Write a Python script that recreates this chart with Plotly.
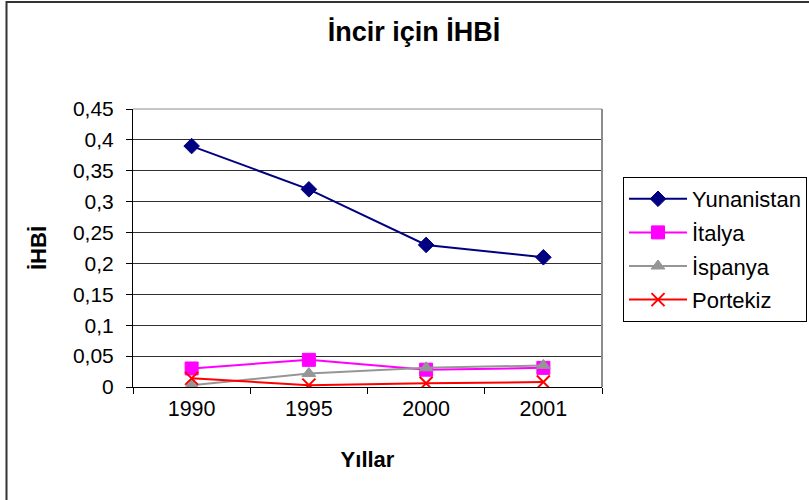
import plotly.graph_objects as go

years = ["1990", "1995", "2000", "2001"]
yunanistan = [0.39, 0.32, 0.23, 0.21]
italya = [0.030, 0.044, 0.028, 0.031]
ispanya = [0.003, 0.022, 0.031, 0.035]
portekiz = [0.014, 0.003, 0.006, 0.008]

y_tickvals = [0, 0.05, 0.1, 0.15, 0.2, 0.25, 0.3, 0.35, 0.4, 0.45]
y_ticktext = ["0", "0,05", "0,1", "0,15", "0,2", "0,25", "0,3", "0,35", "0,4", "0,45"]

FONT = "Liberation Sans, Arial, sans-serif"

series = [
    ("Yunanistan", yunanistan, "#000080", "diamond", 12, 1),
    ("İtalya", italya, "#FF00FF", "square", 13, 1),
    ("İspanya", ispanya, "#969696", "triangle-up", 12, 1),
    ("Portekiz", portekiz, "#FF0000", "x-thin-open", 13, 2),
]

fig = go.Figure()
for i, (name, vals, color, sym, size, lw) in enumerate(series):
    fig.add_trace(go.Scatter(
        x=years, y=vals, name=name, mode="lines+markers",
        legendgroup=f"g{i}",
        line=dict(color=color, width=2),
        marker=dict(symbol=sym, size=size, color=color,
                    line=dict(color=color, width=lw)),
    ))

W, H = 809, 500
L, R, T, B = 133, 207, 109, 113
pw, ph = W - L - R, H - T - B

def px_x(p):
    return (p - L) / pw

def px_y(p):
    return (T + ph - p) / ph

# outer chart border
fig.add_shape(type="rect", xref="paper", yref="paper",
              x0=px_x(6.5), x1=px_x(815), y0=px_y(505), y1=px_y(2),
              line=dict(color="#333333", width=2), fillcolor="rgba(0,0,0,0)")
# plot area border (top/right)
fig.add_shape(type="line", xref="paper", yref="paper", x0=0, x1=1, y0=1, y1=1,
              line=dict(color="#8c8c8c", width=1))
fig.add_shape(type="line", xref="paper", yref="paper", x0=1, x1=1, y0=0, y1=1,
              line=dict(color="#8c8c8c", width=2))

fig.update_layout(
    width=W, height=H,
    margin=dict(l=L, r=R, t=T, b=B, autoexpand=False),
    paper_bgcolor="white", plot_bgcolor="white",
    font=dict(family=FONT, size=21, color="black"),
    title=dict(text="<b>İncir için İHBİ</b>", x=414 / W, xanchor="center",
               y=1 - 32 / H, yanchor="middle", font=dict(size=27)),
    xaxis=dict(type="category", range=[-0.5, 3.5], tickson="boundaries",
               ticks="outside", ticklen=6, tickcolor="black", tickwidth=1,
               showline=True, linecolor="black", linewidth=1,
               showgrid=False, zeroline=False, tickfont=dict(size=21.5),
               ticklabelstandoff=2,
               title=dict(text="<b>Yıllar</b>", standoff=31, font=dict(size=22))),
    yaxis=dict(range=[0, 0.45], tickvals=y_tickvals, ticktext=y_ticktext,
               ticks="outside", ticklen=6, tickcolor="black",
               ticklabelstandoff=8, tickfont=dict(size=21),
               showline=True, linecolor="black", linewidth=1,
               showgrid=True, gridcolor="#303030", gridwidth=1, zeroline=False,
               title=dict(text="<b>İHBİ</b>", standoff=20, font=dict(size=22))),
    legend=dict(x=px_x(623), xanchor="left", y=px_y(177), yanchor="top",
                bordercolor="black", borderwidth=1, bgcolor="white",
                traceorder="grouped", tracegroupgap=2,
                font=dict(size=22), itemwidth=58),
    showlegend=True,
)

fig.write_html("out.html", config={"displayModeBar": False},
               post_script="document.body.style.margin='0';document.body.style.overflow='hidden';")
